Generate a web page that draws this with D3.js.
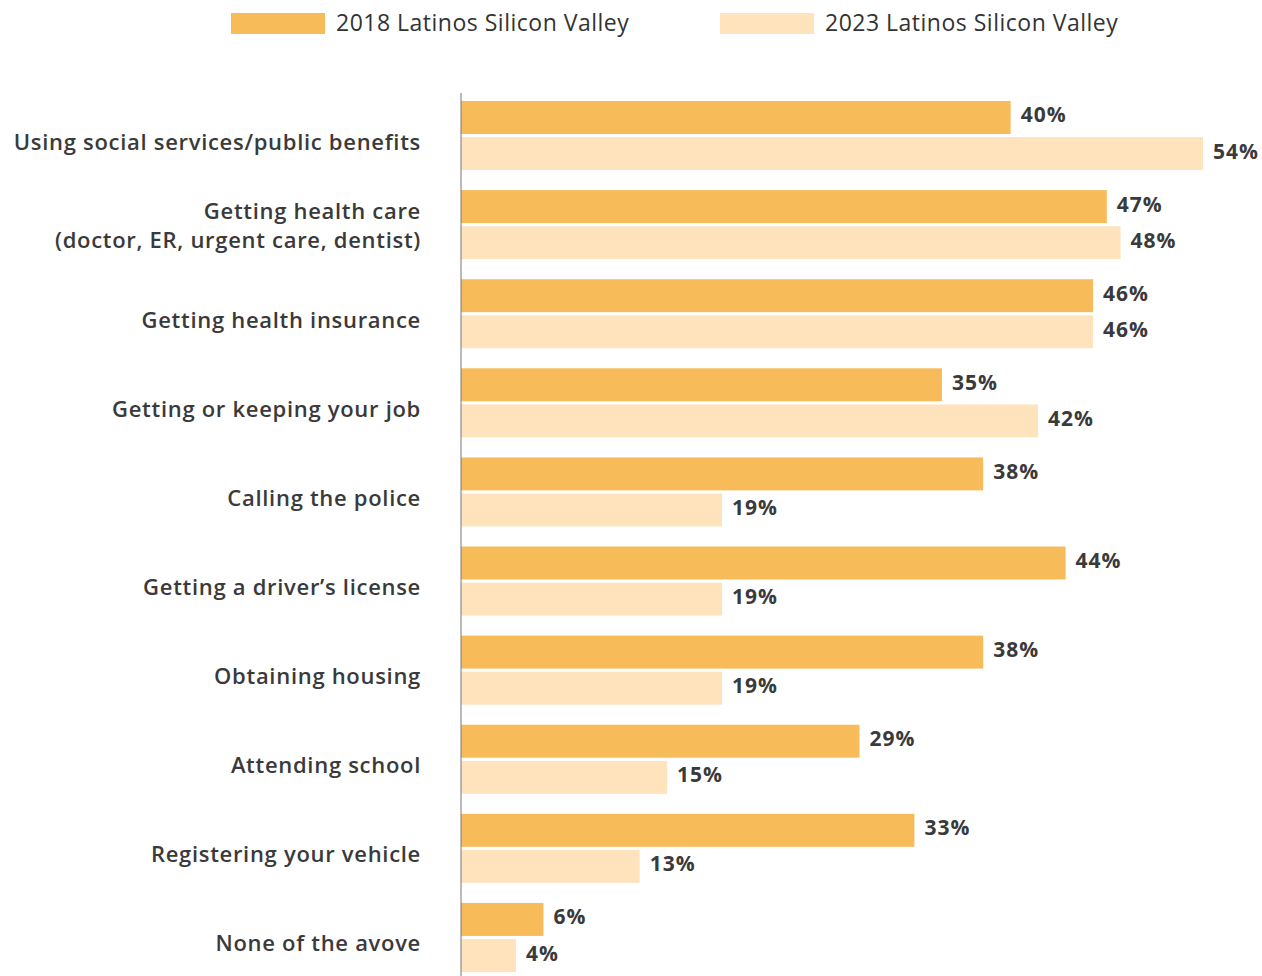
<!DOCTYPE html>
<html>
<head>
<meta charset="utf-8">
<script src="https://cdn.jsdelivr.net/npm/d3@7"></script>
<style>
  html, body { margin: 0; padding: 0; background: #fff; }
  svg { display: block; font-family: "Open Sans", "DejaVu Sans", sans-serif; }
</style>
</head>
<body>
<div id="chart"></div>
<script>
// categories (two-line labels split with "\n")
const categories = [
  "Using social services/public benefits",
  "Getting health care\n(doctor, ER, urgent care, dentist)",
  "Getting health insurance",
  "Getting or keeping your job",
  "Calling the police",
  "Getting a driver\u2019s license",
  "Obtaining housing",
  "Attending school",
  "Registering your vehicle",
  "None of the avove"
];

const seriesNames = ["2018 Latinos Silicon Valley", "2023 Latinos Silicon Valley"];
const values2018 = [40, 47, 46, 35, 38, 44, 38, 29, 33, 6];
const values2023 = [54, 48, 46, 42, 19, 19, 19, 15, 13, 4];
const colors = ["#F8BB5A", "#FEE3BD"];

const width = 1262, height = 976;
const x0 = 461;

const svg = d3.select("#chart").append("svg")
  .attr("width", width)
  .attr("height", height);

const x = d3.scaleLinear().domain([0, 54]).range([x0, 1203]);

const y = d3.scaleBand()
  .domain(categories)
  .range([101, 972])
  .paddingInner(0.225)
  .paddingOuter(0)
  .align(0);

const ySub = d3.scaleBand()
  .domain(seriesNames)
  .range([0, y.bandwidth()])
  .paddingInner(0.087);

const rows = categories.map((c, i) => ({
  cat: c,
  vals: [
    { s: seriesNames[0], v: values2018[i], color: colors[0] },
    { s: seriesNames[1], v: values2023[i], color: colors[1] }
  ]
}));

// legend
const legend = svg.append("g").attr("class", "legend");
const legendX = [231, 720];
seriesNames.forEach((name, i) => {
  const g = legend.append("g").attr("transform", `translate(${legendX[i]},13)`);
  g.append("rect").attr("width", 94).attr("height", 21).attr("fill", colors[i]);
  g.append("text")
    .attr("x", 105)
    .attr("y", 9)
    .attr("dominant-baseline", "central")
    .attr("font-size", 23)
    .attr("letter-spacing", 0.5)
    .attr("fill", "#333")
    .text(name);
});

// groups
const groups = svg.append("g").selectAll("g.row")
  .data(rows)
  .join("g")
  .attr("class", "row")
  .attr("transform", d => `translate(0,${y(d.cat)})`);

groups.selectAll("rect")
  .data(d => d.vals)
  .join("rect")
  .attr("x", x(0))
  .attr("y", d => ySub(d.s))
  .attr("width", d => x(d.v) - x(0))
  .attr("height", ySub.bandwidth())
  .attr("fill", d => d.color);

groups.selectAll("text.val")
  .data(d => d.vals)
  .join("text")
  .attr("class", "val")
  .attr("x", d => x(d.v) + 10)
  .attr("y", d => ySub(d.s) + ySub.bandwidth() / 2 - 3)
  .attr("dominant-baseline", "central")
  .attr("font-size", 21)
  .attr("font-weight", 700)
  .attr("letter-spacing", 1)
  .attr("fill", "#3a3a3a")
  .text(d => d.v + "%");

// category labels
groups.append("text")
  .attr("class", "cat")
  .attr("text-anchor", "end")
  .attr("font-size", 22)
  .attr("font-weight", 600)
  .attr("letter-spacing", 0.7)
  .attr("fill", "#3a3a3a")
  .each(function (d) {
    const lines = d.cat.split("\n");
    const mid = y.bandwidth() / 2;
    const lh = 29;
    const start = lines.length === 1 ? mid + 5 : mid - lh / 2;
    d3.select(this).selectAll("tspan")
      .data(lines)
      .join("tspan")
      .attr("x", 421)
      .attr("y", (l, i) => start + i * lh)
      .attr("dominant-baseline", "central")
      .text(l => l);
  });

// axis line
svg.append("line")
  .attr("x1", x0).attr("x2", x0)
  .attr("y1", 93).attr("y2", height)
  .attr("stroke", "#777")
  .attr("stroke-width", 1);
</script>
</body>
</html>
